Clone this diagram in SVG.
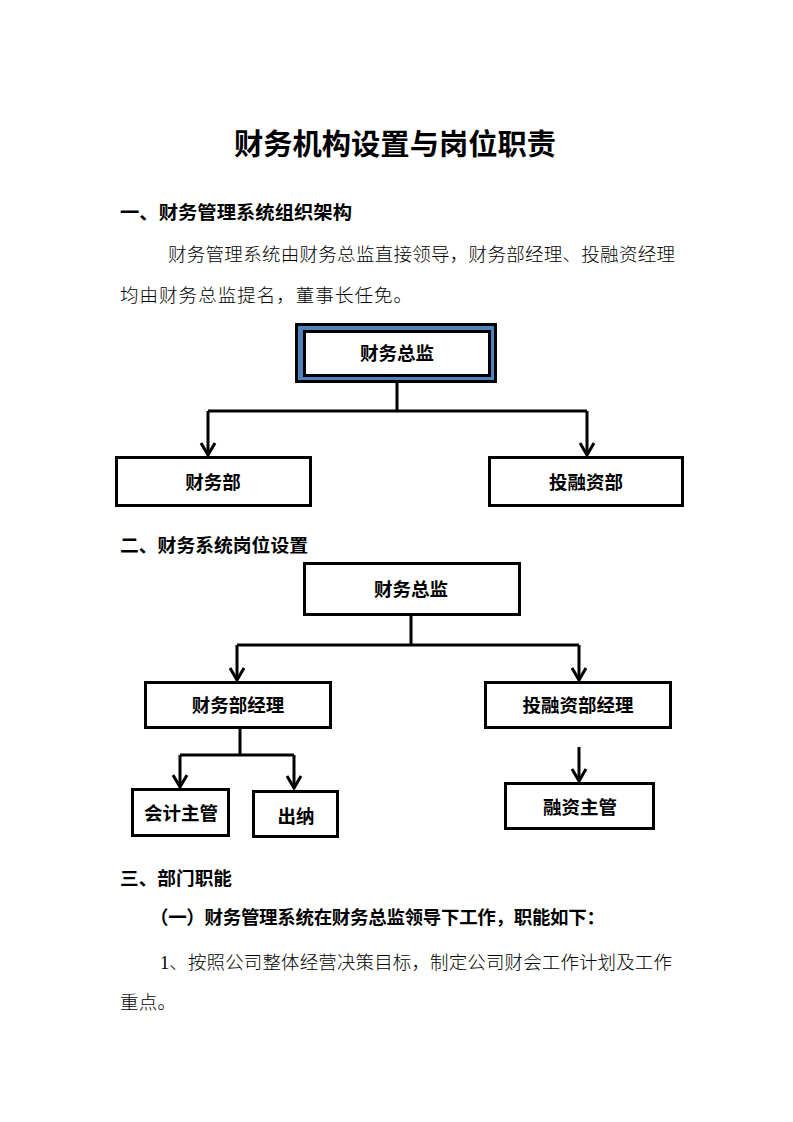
<svg xmlns="http://www.w3.org/2000/svg" width="793" height="1122" viewBox="0 0 793 1122">
<style>
text{font-family:"Liberation Serif","Noto Sans CJK SC",serif;fill:#000}
.title{font-size:29px;font-weight:bold;text-anchor:middle}
.h{font-size:18.5px;font-weight:bold}
.body{font-size:18.5px;font-weight:300}
.lbl{font-size:18.5px;font-weight:bold;text-anchor:middle;font-family:"Noto Sans CJK SC",sans-serif}
.box{fill:#fff;stroke:#000;stroke-width:3}
.conn line,.conn path{stroke:#000;stroke-width:3;fill:none}
</style>
<defs>
<marker id="arr" markerUnits="userSpaceOnUse" markerWidth="20" markerHeight="20" refX="0" refY="0" viewBox="-14 -10 16 20" orient="auto">
<path d="M-12,-7 L0,0 L-12,7" fill="none" stroke="#000" stroke-width="3"/>
</marker>
</defs>
<rect width="793" height="1122" fill="#fff"/>

<text class="title" x="395" y="155" textLength="322" lengthAdjust="spacingAndGlyphs">财务机构设置与岗位职责</text>
<text class="h" x="120" y="219" textLength="232" lengthAdjust="spacingAndGlyphs">一、财务管理系统组织架构</text>
<text class="body" x="168" y="261" textLength="507" lengthAdjust="spacing">财务管理系统由财务总监直接领导，财务部经理、投融资经理</text>
<text class="body" x="120" y="302" textLength="292" lengthAdjust="spacing">均由财务总监提名，董事长任免。</text>

<g id="n1-top">
<rect x="296.5" y="324.5" width="199" height="57" fill="#4F81BD" stroke="#000" stroke-width="3"/>
<rect class="box" x="304.5" y="331.5" width="185" height="44"/>
<text class="lbl" x="397" y="360">财务总监</text>
</g>
<g id="n1-cw">
<rect class="box" x="116.5" y="457.5" width="194" height="48"/>
<text class="lbl" x="213" y="489">财务部</text>
</g>
<g id="n1-tr">
<rect class="box" x="489.5" y="457.5" width="193" height="48"/>
<text class="lbl" x="586" y="489">投融资部</text>
</g>

<text class="h" x="120" y="552" textLength="188" lengthAdjust="spacingAndGlyphs">二、财务系统岗位设置</text>

<g id="n2-top">
<rect class="box" x="304.5" y="563.5" width="215" height="51"/>
<text class="lbl" x="411" y="596">财务总监</text>
</g>
<g id="n2-cwjl">
<rect class="box" x="145.5" y="682.5" width="185" height="45"/>
<text class="lbl" x="238" y="712">财务部经理</text>
</g>
<g id="n2-trjl">
<rect class="box" x="485.5" y="682.5" width="185" height="45"/>
<text class="lbl" x="578" y="712">投融资部经理</text>
</g>
<g id="n2-kj">
<rect class="box" x="132.5" y="789.5" width="96" height="46"/>
<text class="lbl" x="181" y="820">会计主管</text>
</g>
<g id="n2-cn">
<rect class="box" x="253.5" y="791.5" width="84" height="45"/>
<text class="lbl" x="296" y="823">出纳</text>
</g>
<g id="n2-rz">
<rect class="box" x="505.5" y="783.5" width="148" height="45"/>
<text class="lbl" x="580" y="814">融资主管</text>
</g>

<g class="conn" id="connectors">
<line x1="397" y1="383" x2="397" y2="411"/>
<path d="M208,411 H587"/>
<path d="M208,411 V455" marker-end="url(#arr)"/>
<path d="M587,411 V455" marker-end="url(#arr)"/>
<line x1="411" y1="615" x2="411" y2="645"/>
<path d="M237,645 H579"/>
<path d="M237,645 V680" marker-end="url(#arr)"/>
<path d="M579,645 V680" marker-end="url(#arr)"/>
<line x1="240" y1="728" x2="240" y2="755"/>
<path d="M180,755 H294"/>
<path d="M180,755 V787" marker-end="url(#arr)"/>
<path d="M294,755 V788" marker-end="url(#arr)"/>
<path d="M579,747 V781" marker-end="url(#arr)"/>
</g>

<text class="h" x="120" y="885" textLength="112" lengthAdjust="spacingAndGlyphs">三、部门职能</text>
<text class="h" x="150" y="924" textLength="455" lengthAdjust="spacing">（一）财务管理系统在财务总监领导下工作，职能如下：</text>
<text class="body" x="160" y="969" textLength="512" lengthAdjust="spacing">1、按照公司整体经营决策目标，制定公司财会工作计划及工作</text>
<text class="body" x="120" y="1009" textLength="56" lengthAdjust="spacing">重点。</text>
</svg>
